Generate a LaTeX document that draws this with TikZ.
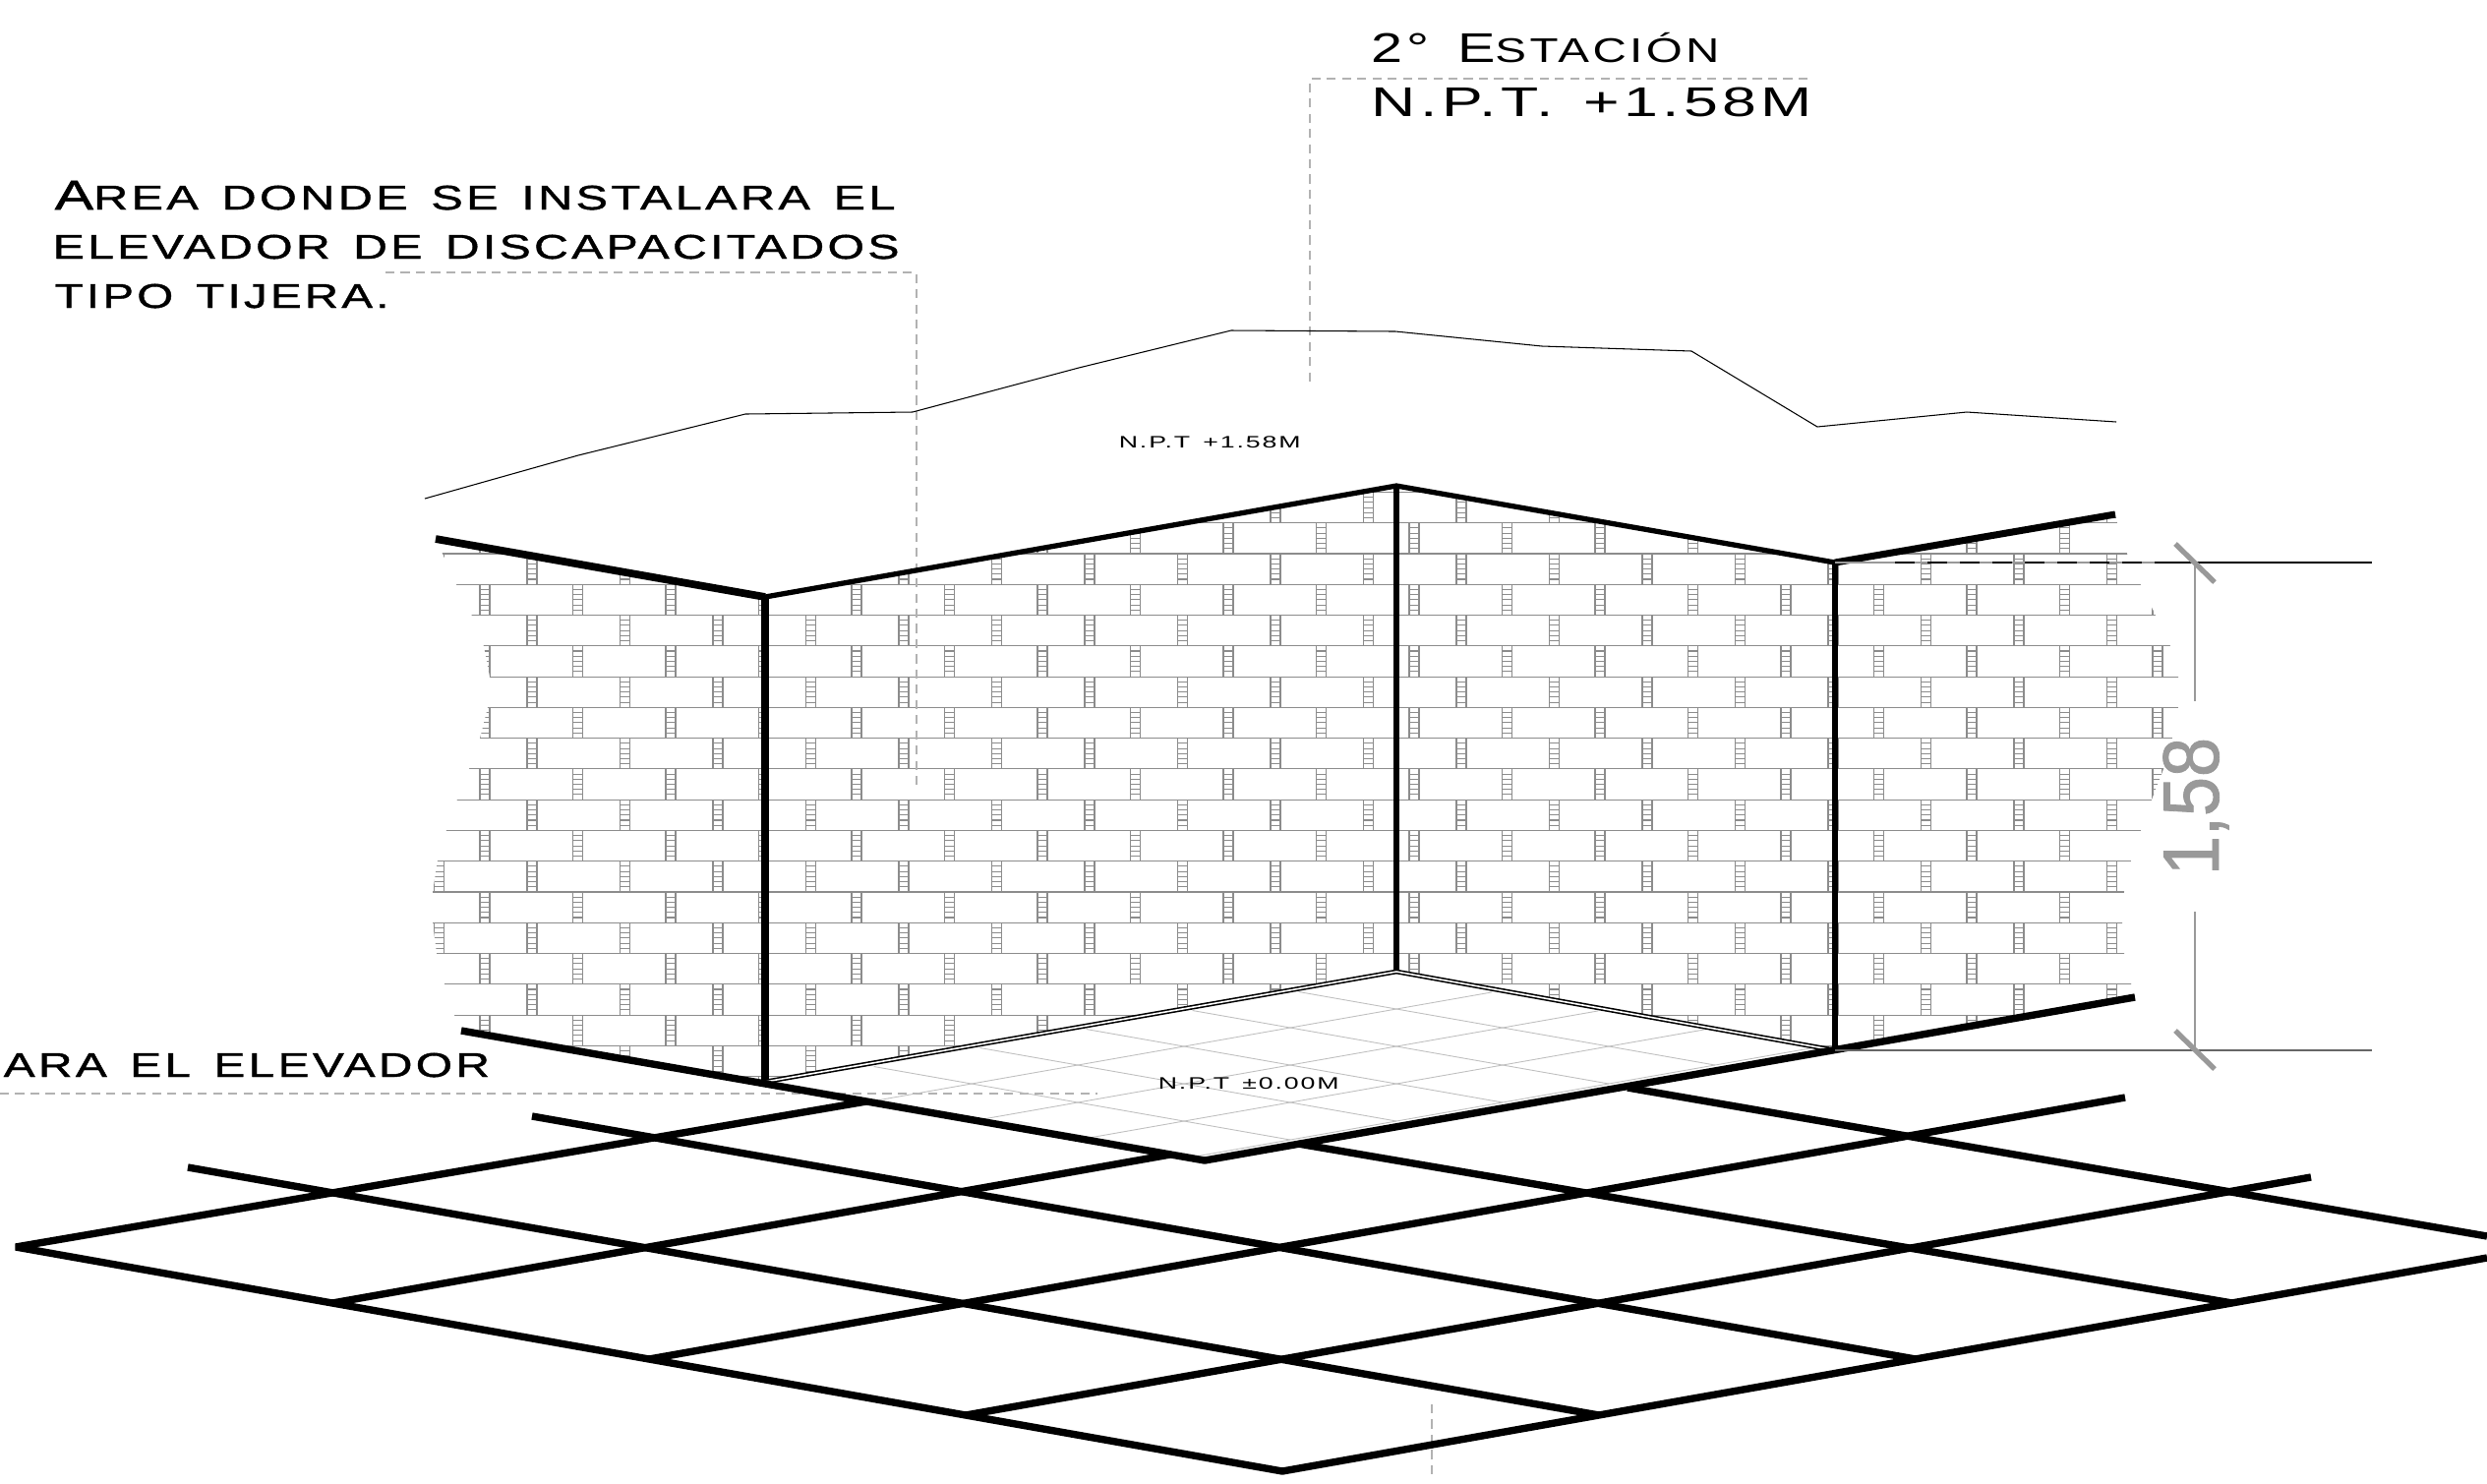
\documentclass[tikz,border=0pt]{standalone}
\usepackage{fontspec}
\usepackage{tikz}
\usetikzlibrary{calc}
\newfontfamily\bankfont[FakeStretch=1.4,LetterSpace=10,WordSpace=1.4]{Liberation Sans}
\newfontfamily\bankheavy[FakeStretch=1.4,LetterSpace=9.5,WordSpace=1.4,FakeBold=1.2]{Liberation Sans}
\newfontfamily\dimfont[FakeStretch=0.89,FakeBold=1]{Liberation Sans}
\definecolor{mortar}{gray}{0.55}
\definecolor{dimgray}{gray}{0.6}
\tikzstyle{wallline} = [line width=2.2pt,line join=bevel]
\tikzstyle{floorline} = [line width=2.1pt,line join=bevel]
\tikzstyle{jointline} = [line width=0.3pt,color=mortar]
\tikzstyle{tileline} = [line width=0.25pt,color=black!25]
\tikzstyle{leaderline} = [line width=0.3pt,color=black!30,dash pattern=on 2.6pt off 1.8pt]
\tikzstyle{dimline} = [line width=0.35pt,color=dimgray]
\tikzstyle{ticker} = [line width=1.5pt,color=dimgray]
\tikzstyle{textlabel} = [inner sep=0pt,anchor=base west,transform shape]
\newcommand{\capbig}[1]{{\fontsize{12}{14}\selectfont #1}}
\newcommand{\capsmall}[1]{{\fontsize{9.9}{12}\selectfont #1}}

\begin{document}
\begin{tikzpicture}[x=0.01cm,y=-0.01cm]

\useasboundingbox (0,0) rectangle (2529,1508);

% Corners of the walls and of the floor
    \coordinate (walltl) at (443,548);
    \coordinate (wallA) at (778,607);
    \coordinate (wallT) at (1420,494);
    \coordinate (wallR) at (1866,572);
    \coordinate (walltr) at (2151,523);
    \coordinate (floorbl) at (469,1048);
    \coordinate (floorA) at (778,1100);
    \coordinate (floorT) at (1420,988);
    \coordinate (floorR) at (1866,1068);
    \coordinate (floorB) at (1225,1180);
    \coordinate (floorbr) at (2171,1014);

% Brick courses, cut to the wall outline
    \begin{scope}
    \clip (walltl) -- (wallA) -- (wallT) -- (wallR) -- (walltr) -- (2153,532) -- (2163,563) -- (2177,595)
        -- (2192,626) -- (2207,657) -- (2215,688) -- (2215,719) -- (2209,750) -- (2200,782) -- (2188,813)
        -- (2177,844) -- (2167,875) -- (2160,906) -- (2158,938) -- (2160,969) -- (2167,1000) -- (floorbr)
        -- (floorR) -- (floorT) -- (floorA) -- (floorbl) -- (462,1032) -- (452,1000) -- (444,969)
        -- (440,938) -- (440,907) -- (445,875) -- (454,844) -- (465,813) -- (477,782) -- (488,751)
        -- (496,719) -- (498,688) -- (492,657) -- (480,626) -- (464,594) -- (450,563) -- cycle;
    \foreach \k in {-2,...,17} {
        \pgfmathsetmacro{\ya}{563+31.27*\k}
        \pgfmathsetmacro{\yb}{\ya+31.27}
        \pgfmathsetmacro{\xo}{iseven(\k) ? 446.5 : 398.5}
        \draw[jointline] (430,\ya) -- (2230,\ya);
        \foreach \n in {0,...,19} {
            \pgfmathsetmacro{\xa}{\xo+94.5*\n-5}
            \pgfmathsetmacro{\xb}{\xa+10}
            \draw[jointline] (\xa,\ya) -- (\xa,\yb) (\xb,\ya) -- (\xb,\yb);
            \foreach \r in {1,...,5}
                \draw[jointline] (\xa,\ya+5.2*\r) -- (\xb,\ya+5.2*\r);
        }
    }
    \end{scope}

% Leaders
    \draw[leaderline] (392,277) -- (932,277) -- (932,798);
    \draw[leaderline] (1838,80) -- (1332,80) -- (1332,393);
    \draw[leaderline] (0,1112) -- (1116,1112);
    \draw[leaderline] (1456,1428) -- (1456,1500);

% Tiles of the platform
    \foreach \i in {1,...,4}
        \draw[tileline] ($(floorT)+(108*\i,19*\i)+(-108*0.1,19*0.1)$) -- ($(floorT)+(108*\i,19*\i)+(-108*5.87,19*5.87)$);
    \foreach \j in {1,...,5}
        \draw[tileline] ($(floorT)+(-108*\j,19*\j)+(108*0.08,19*0.08)$) -- ($(floorT)+(-108*\j,19*\j)+(108*4,19*4)$);

% Profile behind the wall
    \draw[line width=0.3pt] (432,507) -- (588,463) -- (758,421) -- (928,419) -- (1097,374) -- (1252,336)
        -- (1419,337) -- (1568,352) -- (1720,357) -- (1848,434) -- (2000,419) -- (2152,429);

% Walls
    \draw[wallline] (walltl) -- (wallA);
    \draw[wallline,line width=1.5pt] (wallA) -- (wallT) -- (wallR);
    \draw[wallline,line width=2pt] (wallR) -- (walltr);
    \draw[wallline] (wallA) -- (floorA);
    \draw[wallline,line width=1.5pt] (wallT) -- (floorT);
    \draw[wallline,line width=1.9pt] (wallR) -- (floorR);
    \draw[line width=0.45pt,double,double distance=0.45pt] (floorA) -- (floorT) -- (floorR);

% Floor, the platform edge and the paving
    \draw[floorline] (floorbl) -- (floorB) -- (floorbr);
    \draw[floorline] (881,1120) -- (16,1268) -- (1304,1496) -- (2529,1279);
    \foreach \xa/\ya/\xb/\yb in {338/1325/1190/1174,660/1382/2161/1116,982/1439/2350/1197,
        191/1187/1626/1439,541/1135/1948/1382,1320/1163/2270/1325,1655/1106/2529/1257}
        \draw[floorline] (\xa,\ya) -- (\xb,\yb);

% Dimension
    \draw[dimline] (floorR) -- (2412,1068);
    \draw[line width=0.35pt,color=black!60] (floorR) -- (2412,1068);
    \draw[dimline] (wallR) -- (2205,572);
    \draw[line width=0.35pt,dash pattern=on 5.7pt off 3.7pt] (1927,572) -- (2205,572);
    \draw[line width=0.35pt] (2205,572) -- (2412,572);
    \draw[dimline] (2232,572) -- (2232,713);
    \draw[dimline] (2232,927) -- (2232,1068);
    \draw[ticker] (2212,553) -- (2252,592);
    \draw[ticker] (2212,1048) -- (2252,1087);
    \node[inner sep=0pt,anchor=base,rotate=90,text=dimgray] (dimtext) at (2256,820)
        {\fontsize{23}{26}\dimfont 1,58};

% Texts
    \node[textlabel,xscale=0.975] (station) at (1394,63) {\bankfont\capbig{2° E}\capsmall{STACIÓN}};
    \node[textlabel,xscale=1.06] (stationlevel) at (1394,118) {\bankfont\capbig{N.P.T. +1.58M}};
    \node[textlabel] (areaone) at (55,213) {\bankheavy\capbig{A}\capsmall{REA DONDE SE INSTALARA EL}};
    \node[textlabel,xscale=0.99] (areatwo) at (53,263) {\bankheavy\capsmall{ELEVADOR DE DISCAPACITADOS}};
    \node[textlabel,xscale=0.975] (areathree) at (55,313) {\bankheavy\capsmall{TIPO TIJERA.}};
    \node[textlabel,xscale=0.985] (areafour) at (3,1095) {\bankheavy\capsmall{ARA EL ELEVADOR}};
    \node[textlabel,xscale=1.13] (upperlevel) at (1137,455) {\bankfont\fontsize{4.8}{6}\selectfont N.P.T +1.58M};
    \node[textlabel,xscale=1.13] (lowerlevel) at (1177,1107) {\bankfont\fontsize{4.8}{6}\selectfont N.P.T ±0.00M};

\end{tikzpicture}
\end{document}
